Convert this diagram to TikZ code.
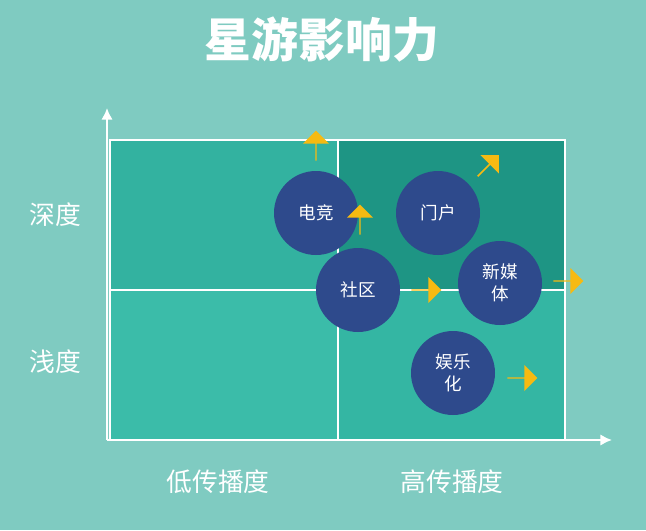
\documentclass[tikz,border=0pt]{standalone}
\usepackage{fontspec}
\newfontfamily\cjk{Noto Sans CJK SC}
\usetikzlibrary{shapes.arrows,arrows.meta}
\definecolor{bgc}{HTML}{7FCBC1}
\definecolor{qa}{HTML}{33B2A0}
\definecolor{qb}{HTML}{1E9584}
\definecolor{qc}{HTML}{3BBCA9}
\definecolor{qd}{HTML}{34B6A3}
\definecolor{navy}{HTML}{2E4A8C}
\definecolor{gold}{HTML}{F6BA12}
\newlength\pxu
\setlength\pxu{0.03cm}
\tikzset{
  ball/.style={circle,fill=navy,minimum size=84\pxu,inner sep=0pt,
    text=white,font=\cjk\fontsize{15}{19}\selectfont,align=center},
  push/.style={single arrow,fill=gold,minimum height=30\pxu,
    minimum width=26\pxu,single arrow head extend=4\pxu,inner sep=0pt},
  lab/.style={text=white,font=\cjk\fontsize{22}{26}\selectfont}
}
\begin{document}
\begin{tikzpicture}[x=0.03cm,y=-0.03cm]
  \fill[bgc] (0,0) rectangle (646,530);
  \fill[qa] (110,140) rectangle (338,290);
  \fill[qb] (338,140) rectangle (565,290);
  \fill[qc] (110,290) rectangle (338,440);
  \fill[qd] (338,290) rectangle (565,440);
  \draw[white,line width=1.5pt] (110,140) rectangle (565,440) (338,140) -- (338,440) (110,290) -- (565,290);
  \coordinate (o) at (107,440);
  \coordinate (ytop) at (107,108);
  \coordinate (xend) at (612,440);
  \draw[white,line width=2pt,-{Latex[length=10pt,width=10pt]}] (o) -- (ytop);
  \draw[white,line width=2pt,-{Latex[length=10pt,width=10pt]}] (o) -- (xend);
  \node[text=white,font=\cjk\bfseries\fontsize{40}{44}\selectfont] (title) at (322,40) {星游影响力};
  \node[lab] (deep) at (55,215) {深度};
  \node[lab] (shallow) at (55,362) {浅度};
  \node[lab] (low) at (218,482) {低传播度};
  \node[lab] (high) at (452,482) {高传播度};
  \node[push,rotate=90] (a1) at (316,146) {};
  \node[push,rotate=45] (a3) at (488,166) {};
  \node[push] (a5) at (568,281) {};
  \node[push] (a6) at (522,378) {};
  \node[ball] (dj) at (316,213) {电竞};
  \node[ball] (mh) at (438,213) {门户};
  \node[ball] (sq) at (358,290) {社区};
  \node[ball] (xm) at (500,283) {新媒\\体};
  \node[ball] (yl) at (453,373) {娱乐\\化};
  \node[push,rotate=90] (a2) at (360,220) {};
  \node[push] (a4) at (426,290) {};
\end{tikzpicture}
\end{document}
